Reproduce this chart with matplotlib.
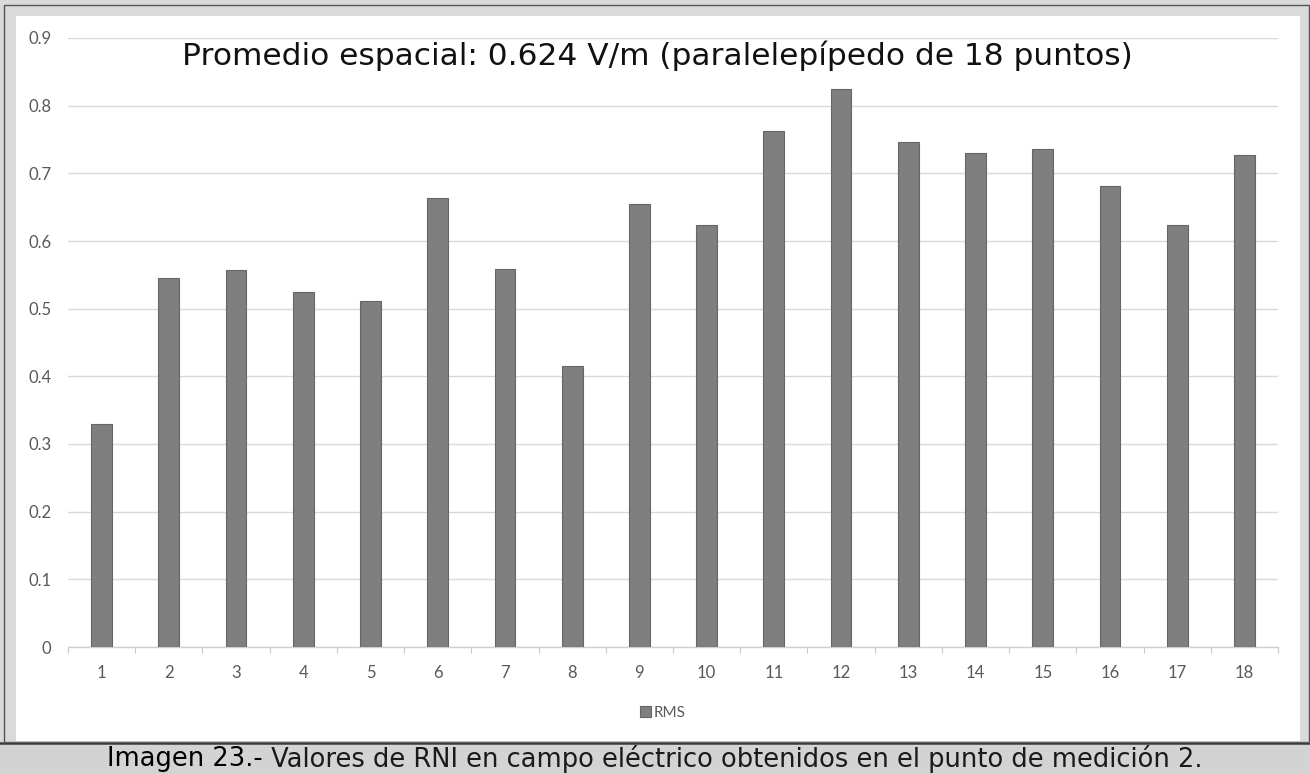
import matplotlib
matplotlib.use("Agg")
import matplotlib.pyplot as plt
from matplotlib.patches import Rectangle
from matplotlib.lines import Line2D

categories = [str(i) for i in range(1, 19)]
rms_values = [0.330, 0.546, 0.557, 0.525, 0.511, 0.664, 0.559, 0.415, 0.654,
              0.623, 0.763, 0.824, 0.747, 0.730, 0.736, 0.681, 0.624, 0.727]
y_ticks = [0, 0.1, 0.2, 0.3, 0.4, 0.5, 0.6, 0.7, 0.8, 0.9]
y_tick_labels = ["0", "0.1", "0.2", "0.3", "0.4", "0.5", "0.6", "0.7", "0.8", "0.9"]
series_name = "RMS"
title_text = "Promedio espacial: 0.624 V/m (paralelepípedo de 18 puntos)"
caption_bold = "Imagen 23.-"
caption_rest = " Valores de RNI en campo eléctrico obtenidos en el punto de medición 2."

W, H = 1310, 774
fig = plt.figure(figsize=(W / 100, H / 100), dpi=100)
fig.patch.set_facecolor("#dadada")

def px_rect(x0, y0, x1, y1, **kw):
    return Rectangle((x0 / W, 1 - y1 / H), (x1 - x0) / W, (y1 - y0) / H,
                     transform=fig.transFigure, **kw)

# white inner panel
fig.patches.append(px_rect(16, 16, 1300, 741, facecolor="white", edgecolor="none", zorder=0))
# outer thin dark frame
fig.patches.append(px_rect(4, 5, 1309, 742, facecolor="none", edgecolor="#555555", lw=1.0, zorder=1))
# caption band
fig.patches.append(px_rect(0, 742, W, H, facecolor="#d3d3d3", edgecolor="none", zorder=1))
fig.lines.append(Line2D([0, 1], [1 - 742.5 / H, 1 - 742.5 / H], transform=fig.transFigure,
                        color="#3a3a3a", lw=1.8, zorder=2))

ax = fig.add_axes([68 / W, 1 - 647 / H, (1278 - 68) / W, (647 - 38) / H])
ax.set_facecolor("none")
ax.set_zorder(5)

x = list(range(len(categories)))
ax.bar(x, rms_values, width=0.31, color="#7f7f7f", edgecolor="#666666", linewidth=0.8,
       zorder=3, label=series_name)

ax.set_xlim(-0.5, len(categories) - 0.5)
ax.set_ylim(0, 0.9)
ax.set_yticks(y_ticks)
ax.set_yticklabels(y_tick_labels)
ax.set_xticks(x)
ax.set_xticklabels(categories)
ax.set_xticks([i - 0.5 for i in range(len(categories) + 1)], minor=True)

tick_font = ["Lato", "DejaVu Sans"]
for lab in ax.get_xticklabels() + ax.get_yticklabels():
    lab.set_family(tick_font)
    lab.set_fontsize(12)
    lab.set_color("#595959")

ax.tick_params(axis="y", length=0, pad=12)
ax.tick_params(axis="x", which="major", length=0, pad=13)
ax.tick_params(axis="x", which="minor", length=4, width=0.8, color="#c8c8c8", direction="out")

ax.grid(axis="y", color="#d9d9d9", lw=1.0, zorder=0)
ax.set_axisbelow(True)
for s in ["top", "right", "left"]:
    ax.spines[s].set_visible(False)
ax.spines["bottom"].set_color("#d0d0d0")
ax.spines["bottom"].set_linewidth(1.0)

leg = fig.legend(loc="center", bbox_to_anchor=(663 / W, 1 - 713 / H), frameon=False,
                 handlelength=0.7, handleheight=0.7, handletextpad=0.2,
                 prop={"family": tick_font, "size": 11})
leg.set_zorder(6)
for t in leg.get_texts():
    t.set_color("#595959")

fig.text(657 / W, 1 - 56 / H, title_text, ha="center", va="center",
         fontsize=22.5, color="#111111", family=["DejaVu Sans"], zorder=7)

# caption: bold part + regular part, centered together
cap_y = 1 - 759 / H
t1 = fig.text(0, cap_y, caption_bold, ha="left", va="center", fontsize=18.5,
              color="#000000", family=["DejaVu Sans"], zorder=7)
t2 = fig.text(0, cap_y, caption_rest, ha="left", va="center", fontsize=18.5,
              color="#1a1a1a", family=["DejaVu Sans"], zorder=7)
fig.canvas.draw()
r = fig.canvas.get_renderer()
w1 = t1.get_window_extent(r).width
w2 = t2.get_window_extent(r).width
start = 655 - (w1 + w2) / 2
t1.set_x(start / W)
t2.set_x((start + w1) / W)

fig.savefig("out.png", dpi=100, facecolor=fig.get_facecolor())
